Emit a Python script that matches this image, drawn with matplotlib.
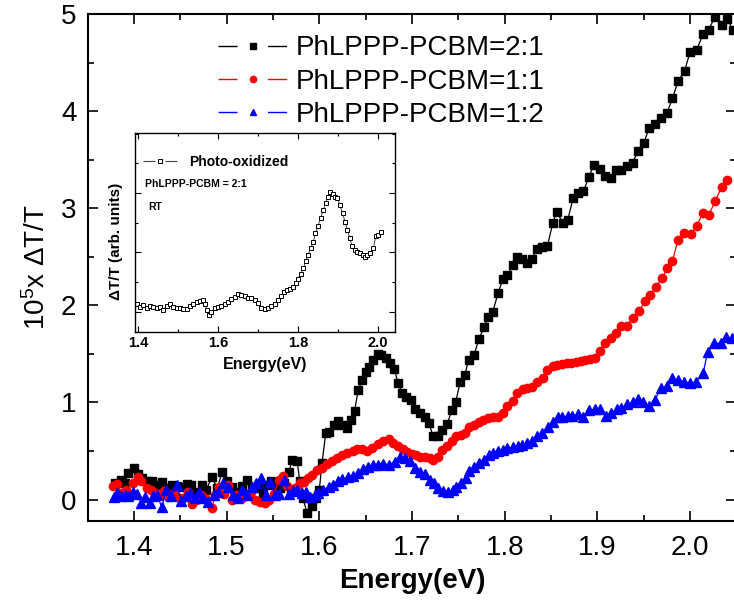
import matplotlib
matplotlib.use("Agg")
import matplotlib.pyplot as plt
from matplotlib.lines import Line2D
from matplotlib.ticker import MultipleLocator

plt.rcParams['font.family'] = ['Liberation Sans', 'DejaVu Sans']
plt.rcParams['lines.scale_dashes'] = False

# PhLPPP-PCBM = 2:1
e_21 = [1.380, 1.386, 1.390, 1.394, 1.400, 1.404, 1.409, 1.414, 1.419, 1.425,
        1.430, 1.436, 1.441, 1.447, 1.452, 1.457, 1.462, 1.467, 1.473, 1.478,
        1.484, 1.490, 1.495, 1.500, 1.506, 1.512, 1.517, 1.522, 1.527, 1.534,
        1.539, 1.544, 1.548, 1.553, 1.558, 1.562, 1.567, 1.571, 1.576, 1.579,
        1.582, 1.587, 1.592, 1.596, 1.600, 1.603, 1.607, 1.611, 1.616, 1.620,
        1.625, 1.630, 1.634, 1.638, 1.642, 1.646, 1.650, 1.654, 1.658, 1.663,
        1.667, 1.672, 1.676, 1.681, 1.685, 1.689, 1.694, 1.699, 1.703, 1.709,
        1.714, 1.718, 1.723, 1.728, 1.732, 1.738, 1.743, 1.747, 1.752, 1.757,
        1.761, 1.767, 1.772, 1.778, 1.782, 1.787, 1.793, 1.798, 1.803, 1.809,
        1.813, 1.819, 1.824, 1.829, 1.835, 1.840, 1.846, 1.852, 1.856, 1.863,
        1.868, 1.874, 1.879, 1.885, 1.891, 1.896, 1.903, 1.908, 1.915, 1.920,
        1.926, 1.932, 1.938, 1.944, 1.950, 1.956, 1.962, 1.969, 1.975, 1.981,
        1.987, 1.994, 2.000, 2.007, 2.014, 2.020, 2.027, 2.034, 2.040, 2.046]
dt_21 = [0.17, 0.20, 0.17, 0.27, 0.33, 0.26, 0.22, 0.19, 0.19, 0.15,
         0.18, 0.12, 0.15, 0.14, 0.13, 0.16, 0.15, 0.08, 0.15, 0.10,
         0.23, 0.12, 0.28, 0.19, 0.13, 0.08, 0.14, 0.20, 0.13, 0.12,
         0.07, 0.15, 0.19, 0.15, 0.12, 0.17, 0.28, 0.41, 0.40, 0.19,
         0.02, -0.14, -0.07, 0.02, 0.10, 0.38, 0.69, 0.70, 0.77, 0.81,
         0.77, 0.74, 0.82, 0.91, 1.13, 1.23, 1.31, 1.37, 1.44, 1.50,
         1.49, 1.46, 1.41, 1.34, 1.20, 1.10, 1.06, 1.03, 0.93, 0.89,
         0.85, 0.79, 0.65, 0.65, 0.72, 0.78, 0.92, 1.00, 1.21, 1.28,
         1.44, 1.49, 1.65, 1.78, 1.88, 1.93, 2.13, 2.27, 2.31, 2.42,
         2.50, 2.48, 2.44, 2.48, 2.58, 2.60, 2.61, 2.85, 2.96, 2.85,
         2.88, 3.11, 3.16, 3.18, 3.32, 3.45, 3.40, 3.33, 3.31, 3.39,
         3.39, 3.43, 3.47, 3.59, 3.67, 3.83, 3.87, 3.93, 3.98, 4.13,
         4.31, 4.41, 4.61, 4.63, 4.79, 4.84, 4.97, 4.89, 4.95, 4.84]

# PhLPPP-PCBM = 1:1
e_11 = [1.377, 1.382, 1.386, 1.392, 1.399, 1.404, 1.408, 1.414, 1.418, 1.423,
        1.428, 1.432, 1.437, 1.442, 1.447, 1.453, 1.458, 1.463, 1.467, 1.472,
        1.477, 1.484, 1.488, 1.492, 1.497, 1.502, 1.506, 1.511, 1.517, 1.521,
        1.526, 1.531, 1.536, 1.541, 1.546, 1.551, 1.556, 1.561, 1.565, 1.569,
        1.574, 1.579, 1.583, 1.588, 1.592, 1.597, 1.603, 1.608, 1.614, 1.619,
        1.625, 1.630, 1.636, 1.641, 1.646, 1.651, 1.657, 1.663, 1.669, 1.675,
        1.680, 1.685, 1.690, 1.695, 1.700, 1.704, 1.709, 1.714, 1.719, 1.723,
        1.728, 1.732, 1.738, 1.743, 1.747, 1.753, 1.757, 1.761, 1.767, 1.772,
        1.777, 1.782, 1.787, 1.793, 1.798, 1.802, 1.809, 1.813, 1.820, 1.824,
        1.829, 1.835, 1.841, 1.846, 1.852, 1.856, 1.862, 1.867, 1.872, 1.877,
        1.882, 1.887, 1.892, 1.897, 1.903, 1.908, 1.915, 1.920, 1.926, 1.932,
        1.938, 1.945, 1.951, 1.957, 1.963, 1.970, 1.975, 1.981, 1.987, 1.993,
        2.001, 2.007, 2.014, 2.020, 2.027, 2.034, 2.040]
dt_11 = [0.14, 0.16, 0.07, 0.10, 0.17, 0.23, 0.19, 0.12, 0.10, 0.07,
         0.05, 0.09, 0.03, 0.06, 0.03, 0.02, 0.08, -0.05, 0.00, 0.05,
         0.02, -0.09, 0.05, 0.13, 0.06, 0.15, 0.00, 0.05, 0.02, 0.05,
         0.08, 0.00, -0.02, -0.03, 0.00, 0.06, 0.20, 0.24, 0.14, 0.08,
         0.12, 0.17, 0.18, 0.22, 0.25, 0.30, 0.33, 0.37, 0.40, 0.43,
         0.46, 0.48, 0.50, 0.52, 0.52, 0.50, 0.53, 0.57, 0.60, 0.62,
         0.58, 0.55, 0.52, 0.49, 0.47, 0.46, 0.44, 0.44, 0.43, 0.41,
         0.44, 0.51, 0.55, 0.60, 0.65, 0.67, 0.69, 0.75, 0.77, 0.80,
         0.82, 0.84, 0.85, 0.85, 0.89, 0.96, 1.02, 1.10, 1.14, 1.15,
         1.16, 1.21, 1.25, 1.33, 1.38, 1.39, 1.40, 1.41, 1.41, 1.42,
         1.43, 1.44, 1.45, 1.46, 1.53, 1.61, 1.66, 1.72, 1.79, 1.79,
         1.87, 1.94, 2.04, 2.11, 2.19, 2.28, 2.38, 2.46, 2.67, 2.74,
         2.73, 2.82, 2.95, 2.93, 3.07, 3.22, 3.29]

# PhLPPP-PCBM = 1:2
e_12 = [1.379, 1.382, 1.386, 1.390, 1.394, 1.399, 1.403, 1.408, 1.412, 1.417,
        1.421, 1.425, 1.430, 1.435, 1.440, 1.446, 1.451, 1.456, 1.461, 1.466,
        1.470, 1.475, 1.480, 1.486, 1.491, 1.496, 1.501, 1.507, 1.512, 1.517,
        1.522, 1.527, 1.532, 1.537, 1.542, 1.547, 1.552, 1.557, 1.562, 1.567,
        1.572, 1.576, 1.581, 1.586, 1.590, 1.595, 1.599, 1.604, 1.610, 1.615,
        1.620, 1.625, 1.631, 1.636, 1.642, 1.647, 1.652, 1.658, 1.663, 1.669,
        1.675, 1.682, 1.687, 1.692, 1.698, 1.703, 1.709, 1.714, 1.719, 1.724,
        1.728, 1.733, 1.739, 1.744, 1.748, 1.753, 1.758, 1.762, 1.767, 1.772,
        1.778, 1.783, 1.787, 1.793, 1.798, 1.803, 1.809, 1.814, 1.819, 1.824,
        1.829, 1.835, 1.840, 1.847, 1.852, 1.857, 1.862, 1.868, 1.873, 1.879,
        1.885, 1.891, 1.897, 1.903, 1.909, 1.915, 1.921, 1.926, 1.932, 1.938,
        1.944, 1.949, 1.956, 1.962, 1.969, 1.975, 1.981, 1.987, 1.993, 2.000,
        2.006, 2.014, 2.019, 2.026, 2.033, 2.039, 2.045]
dt_12 = [0.03, 0.07, 0.04, 0.05, 0.04, 0.08, 0.06, -0.03, 0.03, -0.03,
         0.04, 0.05, -0.08, 0.10, 0.04, 0.15, -0.01, 0.04, 0.07, 0.02,
         0.08, 0.02, -0.02, 0.05, 0.08, 0.17, 0.13, 0.05, 0.02, 0.10,
         0.05, 0.13, 0.17, 0.22, 0.05, 0.18, 0.05, 0.06, 0.20, 0.06,
         0.09, 0.10, 0.07, 0.08, 0.03, 0.05, 0.07, 0.10, 0.13, 0.15,
         0.19, 0.21, 0.23, 0.24, 0.27, 0.32, 0.34, 0.36, 0.36, 0.37,
         0.36, 0.39, 0.44, 0.43, 0.40, 0.33, 0.28, 0.26, 0.20, 0.17,
         0.12, 0.09, 0.08, 0.10, 0.13, 0.17, 0.22, 0.29, 0.34, 0.38,
         0.41, 0.46, 0.48, 0.50, 0.51, 0.53, 0.54, 0.55, 0.56, 0.58,
         0.60, 0.65, 0.69, 0.75, 0.80, 0.85, 0.85, 0.86, 0.86, 0.88,
         0.85, 0.92, 0.93, 0.93, 0.86, 0.89, 0.93, 0.94, 0.98, 1.00,
         1.04, 1.00, 0.96, 1.03, 1.15, 1.17, 1.25, 1.23, 1.21, 1.20,
         1.21, 1.30, 1.52, 1.61, 1.61, 1.67, 1.66]

# inset: photo-oxidized 2:1 film, arbitrary units
e_ox = [1.396, 1.404, 1.413, 1.421, 1.429, 1.438, 1.446, 1.454, 1.463, 1.471,
        1.479, 1.488, 1.496, 1.504, 1.513, 1.521, 1.529, 1.538, 1.546, 1.554,
        1.561, 1.567, 1.571, 1.578, 1.583, 1.592, 1.600, 1.608, 1.617, 1.625,
        1.633, 1.642, 1.650, 1.658, 1.667, 1.675, 1.683, 1.692, 1.700, 1.708,
        1.717, 1.725, 1.733, 1.742, 1.750, 1.758, 1.764, 1.771, 1.779, 1.788,
        1.794, 1.800, 1.806, 1.813, 1.819, 1.825, 1.831, 1.838, 1.843, 1.850,
        1.856, 1.863, 1.869, 1.875, 1.879, 1.886, 1.892, 1.898, 1.904, 1.911,
        1.917, 1.923, 1.929, 1.935, 1.942, 1.948, 1.954, 1.961, 1.967, 1.973,
        1.979, 1.988, 1.994, 2.000, 2.008]
dt_ox = [0.13, 0.08, 0.11, 0.07, 0.10, 0.08, 0.06, 0.08, 0.03, 0.10,
         0.13, 0.08, 0.07, 0.06, 0.04, 0.05, 0.10, 0.13, 0.16, 0.19,
         0.20, 0.13, 0.03, -0.06, 0.00, 0.06, 0.08, 0.10, 0.13, 0.17,
         0.21, 0.25, 0.30, 0.29, 0.26, 0.24, 0.23, 0.20, 0.14, 0.06,
         0.04, 0.06, 0.10, 0.13, 0.20, 0.26, 0.34, 0.37, 0.39, 0.42,
         0.49, 0.56, 0.64, 0.73, 0.85, 0.96, 1.07, 1.18, 1.32, 1.45,
         1.58, 1.72, 1.84, 1.94, 2.01, 1.99, 1.94, 1.92, 1.80, 1.66,
         1.52, 1.38, 1.24, 1.10, 1.04, 1.00, 0.99, 0.96, 0.92, 0.96,
         0.99, 1.07, 1.27, 1.30, 1.35]

labels = ['PhLPPP-PCBM=2:1', 'PhLPPP-PCBM=1:1', 'PhLPPP-PCBM=1:2']
x_ticks = [1.4, 1.5, 1.6, 1.7, 1.8, 1.9, 2.0]
y_ticks = [0, 1, 2, 3, 4, 5]
inset_x_ticks = [1.4, 1.6, 1.8, 2.0]


def style_ticks(ax, major_len, minor_len, width):
    ax.tick_params(which='both', direction='in', top=True, right=True, width=width)
    ax.tick_params(which='major', length=major_len)
    ax.tick_params(which='minor', length=minor_len)


def main():
    fig = plt.figure(figsize=(7.34, 6.03), dpi=100)
    ax = fig.add_axes([0.1193, 0.136, 0.884, 0.8408])

    series = [(e_21, dt_21, 'black', 's', 5.4),
              (e_11, dt_11, 'red', 'o', 6.0),
              (e_12, dt_12, 'blue', '^', 6.5)]
    handles = []
    for (e, dt, c, m, ms) in series:
        ax.plot(e, dt, color=c, lw=0.9, marker=m, ms=ms, mec=c, mfc=c)
        # legend symbol: line broken around the marker
        handles.append(Line2D([], [], color=c, lw=1.0, linestyle=(0, (13.7, 22.0)),
                              marker=m, ms=ms * 0.75, mec=c, mfc=c))

    ax.set_xlim(1.35, 2.05)
    ax.set_ylim(-0.22, 5.0)
    ax.set_xticks(x_ticks)
    ax.set_xticklabels([f'{t:.1f}' for t in x_ticks])
    ax.set_yticks(y_ticks)
    ax.xaxis.set_minor_locator(MultipleLocator(0.05))
    ax.yaxis.set_minor_locator(MultipleLocator(0.5))
    style_ticks(ax, 7, 4.5, 1.2)
    ax.tick_params(axis='x', labelsize=20, pad=10)
    ax.tick_params(axis='y', labelsize=20, pad=8)
    for sp in ax.spines.values():
        sp.set_linewidth(1.5)

    ax.set_xlabel('Energy(eV)', fontsize=20, fontweight='bold', labelpad=5)
    ax.set_ylabel(r'$\mathregular{10^5}$x ΔT/T', fontsize=20, labelpad=7)

    ax.legend(handles, labels, loc='upper left', bbox_to_anchor=(0.2006, 0.958),
              frameon=False, fontsize=20, handlelength=2.52, handletextpad=0.3,
              labelspacing=0.26, borderpad=0, borderaxespad=0, numpoints=1)

    # inset
    axi = fig.add_axes([0.1839, 0.4494, 0.3542, 0.330])
    axi.plot(e_ox, dt_ox, color='#444444', lw=0.7, marker='s', ms=3.2,
             mfc='white', mec='black', mew=0.7)
    axi.set_xlim(1.392, 2.042)
    axi.set_ylim(-0.34, 3.01)
    axi.set_xticks(inset_x_ticks)
    axi.set_xticklabels([f'{t:.1f}' for t in inset_x_ticks])
    axi.xaxis.set_minor_locator(MultipleLocator(0.1))
    axi.set_yticks([0, 1, 2])
    axi.yaxis.set_minor_locator(MultipleLocator(0.5))
    axi.set_yticklabels([])
    style_ticks(axi, 4, 2.5, 0.8)
    axi.tick_params(axis='x', labelsize=10.5, pad=3)
    for lab in axi.get_xticklabels():
        lab.set_fontweight('bold')
    for sp in axi.spines.values():
        sp.set_linewidth(1.0)
    axi.set_xlabel('Energy(eV)', fontsize=11.5, fontweight='bold', labelpad=5)
    axi.set_ylabel('ΔT/T (arb. units)', fontsize=11, fontweight='bold')
    axi.yaxis.set_label_coords(-0.045, 0.457)

    ox_handle = Line2D([], [], color='#444444', lw=0.8, linestyle=(0, (8.6, 7.2)),
                       marker='s', ms=3, mfc='white', mec='black', mew=0.7)
    axi.legend([ox_handle], ['Photo-oxidized'], loc='center left',
               bbox_to_anchor=(0.031, 0.854), frameon=False,
               prop={'size': 10, 'weight': 'bold'}, handlelength=2.45,
               handletextpad=0.9, borderpad=0, borderaxespad=0, numpoints=1)
    axi.text(0.04, 0.745, 'PhLPPP-PCBM = 2:1', transform=axi.transAxes,
             fontsize=7.5, fontweight='bold', va='center')
    axi.text(0.05, 0.63, 'RT', transform=axi.transAxes,
             fontsize=7.5, fontweight='bold', va='center')

    fig.savefig('out.png', dpi=100)


if __name__ == "__main__":
    main()
